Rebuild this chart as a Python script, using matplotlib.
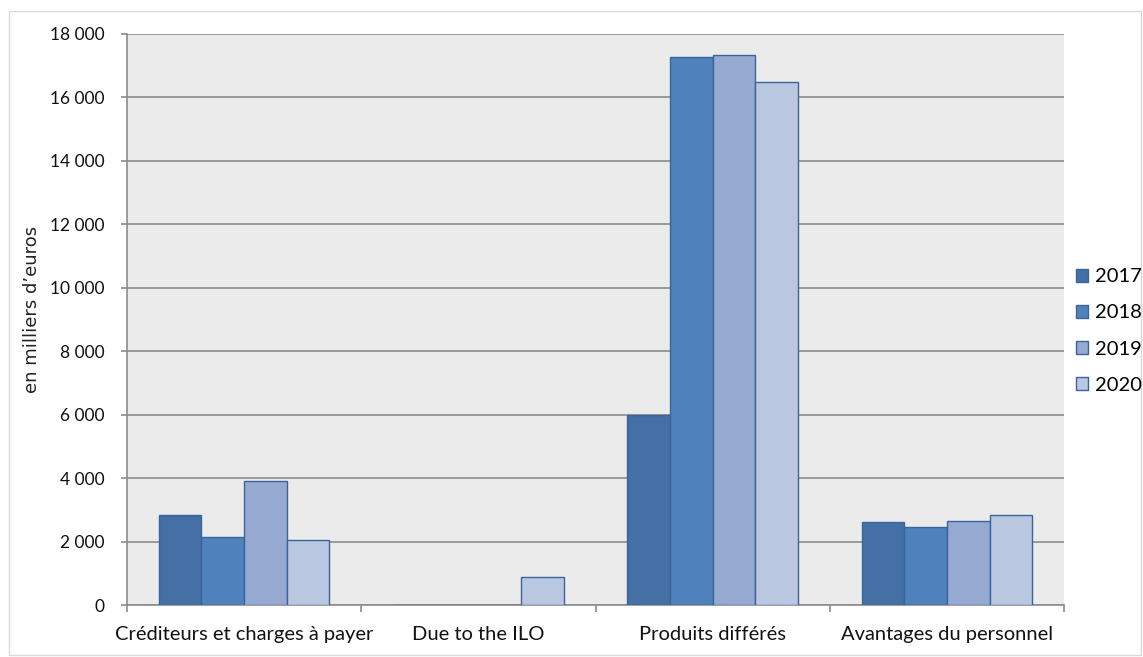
import numpy as np
import matplotlib.pyplot as plt
from matplotlib.patches import Rectangle, Patch
from matplotlib.ticker import FuncFormatter, FixedLocator

plt.rcParams['font.family'] = ['Lato', 'DejaVu Sans']

categories = ['Créditeurs et charges à payer', 'Due to the ILO',
              'Produits différés', 'Avantages du personnel']
years = ['2017', '2018', '2019', '2020']
v2017 = [2850, 0, 6000, 2620]
v2018 = [2150, 0, 17260, 2460]
v2019 = [3910, 0, 17350, 2650]
v2020 = [2040, 890, 16490, 2850]
yticks = [0, 2000, 4000, 6000, 8000, 10000, 12000, 14000, 16000, 18000]

colors = ['#4470A5', '#4F81BD', '#95A9D1', '#B9C7E1']
edge = '#3B659A'

fig = plt.figure(figsize=(11.43, 6.57), dpi=100)
fig.patches.append(Rectangle((9/1143, 2/657), 1132/1143, 644/657, transform=fig.transFigure,
                             fill=False, edgecolor='#D9D9D9', linewidth=1))
ax = fig.add_axes([127/1143, 52/657, 937/1143, 571/657])
ax.set_facecolor('#EBEBEB')

x = np.arange(len(categories))
w = 0.182
series = [v2017, v2018, v2019, v2020]
for i, vals in enumerate(series):
    ax.bar(x + (i - 1.5) * w, vals, w, color=colors[i], edgecolor=edge, linewidth=1, zorder=3)

ax.set_xlim(-0.5, len(categories) - 0.5)
ax.set_ylim(0, 18000)
ax.set_yticks(yticks)
ax.yaxis.set_major_formatter(FuncFormatter(lambda v, p: '{:,}'.format(int(v)).replace(',', ' ')))
ax.grid(axis='y', color='#8C8C8C', linewidth=1.2, zorder=1)

ax.set_xticks(x)
ax.set_xticklabels(categories)
ax.xaxis.set_minor_locator(FixedLocator(np.arange(len(categories) + 1) - 0.5))
ax.tick_params(axis='x', which='major', length=0, pad=15, labelsize=14.5, colors='#111111')
ax.tick_params(axis='x', which='minor', length=5, width=1.2, color='#8C8C8C')
ax.tick_params(axis='y', length=4, width=1.2, color='#8C8C8C', pad=12, labelsize=12.5,
               labelcolor='#111111')

for s in ['top', 'right']:
    ax.spines[s].set_visible(False)
for s in ['left', 'bottom']:
    ax.spines[s].set_color('#8C8C8C')
    ax.spines[s].set_linewidth(1.2)

fig.text(32/1143, 1 - 309/657, 'en milliers d\u2019euros', rotation=90, va='center', ha='center',
         fontsize=13, family=['DejaVu Sans'], color='#222222')

handles = [Patch(facecolor=colors[i], edgecolor=edge, label=years[i]) for i in range(4)]
fig.legend(handles=handles, loc='center left', bbox_to_anchor=(1076/1143, 1 - 331/657),
           frameon=False, fontsize=14.5, handlelength=0.6, handleheight=0.6,
           handletextpad=0.35, labelspacing=0.95, borderpad=0, borderaxespad=0)

plt.savefig('out.png', dpi=100)
